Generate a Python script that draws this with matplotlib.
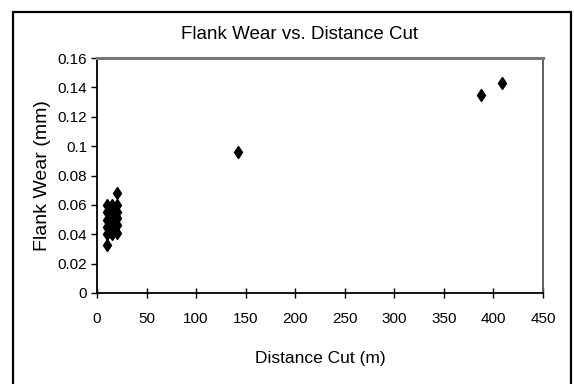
import matplotlib
matplotlib.use("Agg")
import matplotlib.pyplot as plt
from matplotlib.patches import Rectangle

# ------------------------------------------------------------
#  Data
# ------------------------------------------------------------
distance_cut = [10, 10, 10, 10, 10, 10,
                15, 15, 15, 15, 15,
                20, 20, 20, 20, 20, 20,
                142, 387, 409]
flank_wear = [0.033, 0.040, 0.045, 0.050, 0.055, 0.060,
              0.040, 0.045, 0.050, 0.055, 0.060,
              0.041, 0.046, 0.051, 0.055, 0.060, 0.068,
              0.096, 0.135, 0.143]

x_ticks = [0, 50, 100, 150, 200, 250, 300, 350, 400, 450]
y_ticks = [0, 0.02, 0.04, 0.06, 0.08, 0.1, 0.12, 0.14, 0.16]
y_tick_labels = ["0", "0.02", "0.04", "0.06", "0.08", "0.1", "0.12", "0.14", "0.16"]

font = ["Liberation Sans", "DejaVu Sans"]

# ------------------------------------------------------------
#  Figure
# ------------------------------------------------------------
fig = plt.figure(figsize=(5.74, 3.84), dpi=100)
ax = fig.add_axes([97 / 574, 91 / 384, 446 / 574, 235 / 384])

ax.plot(distance_cut, flank_wear, linestyle="none", marker="d",
        markersize=6, color="black")

ax.set_xlim(0, 450)
ax.set_ylim(0, 0.16)
ax.set_xticks(x_ticks)
ax.set_xticklabels([str(t) for t in x_ticks], family=font, fontsize=11)
ax.set_yticks(y_ticks)
ax.set_yticklabels(y_tick_labels, family=font, fontsize=11)
ax.tick_params(axis="x", direction="inout", length=7, width=1, pad=10)
ax.tick_params(axis="y", direction="out", length=4, width=1, pad=3)

for side in ["left", "bottom"]:
    ax.spines[side].set_linewidth(1.3)
    ax.spines[side].set_color("black")
ax.spines["top"].set_color("#777777")
ax.spines["top"].set_linewidth(2.2)
ax.spines["right"].set_color("#555555")
ax.spines["right"].set_linewidth(1.3)

ax.set_title("Flank Wear vs. Distance Cut", family=font, fontsize=13.5,
             pad=14, x=0.455)
ax.set_xlabel("Distance Cut (m)", family=font, fontsize=12.5, labelpad=18)
ax.set_ylabel("Flank Wear (mm)", family=font, fontsize=14, labelpad=5)

# outer frame of the picture
fig.add_artist(Rectangle((13 / 574, -0.05), 558 / 574, 1 - 12 / 384 + 0.05,
                         transform=fig.transFigure, fill=False,
                         edgecolor="black", linewidth=1.6))

fig.savefig("out.png", dpi=100)
